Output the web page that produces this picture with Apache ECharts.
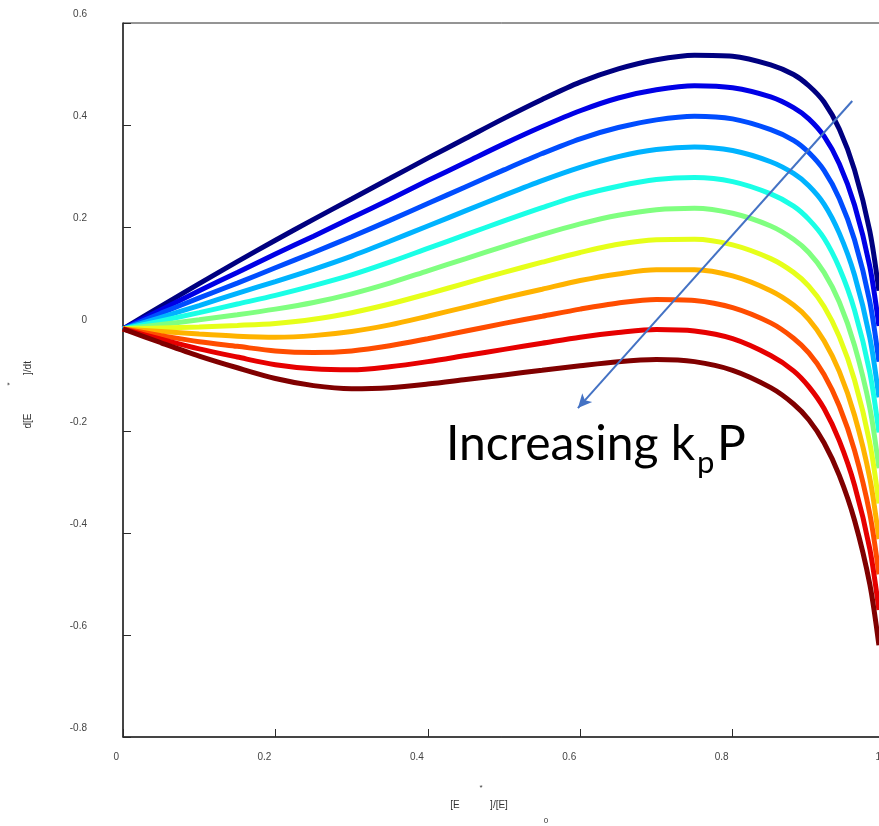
<!DOCTYPE html>
<html>
<head>
<meta charset="utf-8">
<title>d[E*]/dt vs [E*]/[E]0</title>
<script src="https://cdn.jsdelivr.net/npm/echarts@6/dist/echarts.min.js"></script>
<style>
  html, body { margin: 0; padding: 0; background: #fff; }
  #chart { width: 879px; height: 826px; }
</style>
</head>
<body>
<div id="chart"></div>
<script>
  // x = [E*]/[E]0
  const xValues = [0, 0.05, 0.1, 0.15, 0.2, 0.25, 0.3, 0.35, 0.4, 0.45, 0.5, 0.55, 0.6, 0.65, 0.7, 0.75, 0.8, 0.85, 0.88, 0.9, 0.92, 0.94, 0.96, 0.98, 0.992];

  // d[E*]/dt, one array per kpP value (lowest kpP first)
  const curve1  = [0, 0.045, 0.089, 0.132, 0.174, 0.215, 0.255, 0.295, 0.335, 0.374, 0.413, 0.450, 0.484, 0.510, 0.528, 0.537, 0.535, 0.518, 0.499, 0.477, 0.445, 0.392, 0.312, 0.192, 0.075];
  const curve2  = [0, 0.038, 0.075, 0.111, 0.147, 0.182, 0.218, 0.254, 0.291, 0.327, 0.363, 0.397, 0.428, 0.453, 0.469, 0.477, 0.473, 0.455, 0.434, 0.412, 0.378, 0.324, 0.243, 0.123, 0.006];
  const curve3  = [0, 0.031, 0.061, 0.090, 0.120, 0.150, 0.181, 0.213, 0.246, 0.279, 0.312, 0.344, 0.373, 0.395, 0.410, 0.417, 0.412, 0.391, 0.370, 0.346, 0.311, 0.256, 0.175, 0.054, -0.064];
  const curve4  = [0, 0.023, 0.046, 0.070, 0.093, 0.117, 0.143, 0.172, 0.202, 0.232, 0.262, 0.291, 0.317, 0.338, 0.352, 0.357, 0.350, 0.328, 0.305, 0.281, 0.245, 0.188, 0.106, -0.016, -0.134];
  const curve5  = [0, 0.016, 0.032, 0.049, 0.066, 0.085, 0.106, 0.131, 0.158, 0.185, 0.212, 0.238, 0.262, 0.280, 0.293, 0.297, 0.289, 0.265, 0.241, 0.215, 0.178, 0.120, 0.037, -0.085, -0.203];
  const curve6  = [0, 0.009, 0.018, 0.028, 0.039, 0.052, 0.069, 0.090, 0.114, 0.138, 0.162, 0.185, 0.206, 0.223, 0.234, 0.237, 0.227, 0.202, 0.176, 0.150, 0.111, 0.053, -0.032, -0.154, -0.273];
  const curve7  = [0, 0.002, 0.004, 0.007, 0.011, 0.019, 0.032, 0.049, 0.069, 0.090, 0.111, 0.131, 0.150, 0.166, 0.175, 0.176, 0.165, 0.138, 0.111, 0.084, 0.044, -0.015, -0.100, -0.223, -0.342];
  const curve8  = [0, -0.005, -0.010, -0.014, -0.016, -0.013, -0.005, 0.008, 0.025, 0.043, 0.061, 0.078, 0.095, 0.108, 0.116, 0.116, 0.104, 0.075, 0.047, 0.019, -0.023, -0.083, -0.169, -0.292, -0.412];
  const curve9  = [0, -0.013, -0.025, -0.034, -0.043, -0.046, -0.043, -0.033, -0.019, -0.004, 0.011, 0.025, 0.039, 0.051, 0.058, 0.056, 0.042, 0.012, -0.018, -0.047, -0.089, -0.151, -0.238, -0.362, -0.481];
  const curve10 = [0, -0.020, -0.039, -0.055, -0.070, -0.078, -0.080, -0.074, -0.064, -0.052, -0.040, -0.028, -0.016, -0.007, -0.001, -0.004, -0.019, -0.052, -0.082, -0.113, -0.156, -0.219, -0.306, -0.431, -0.551];
  const curve11 = [0, -0.027, -0.053, -0.076, -0.097, -0.111, -0.117, -0.115, -0.108, -0.099, -0.090, -0.081, -0.072, -0.064, -0.060, -0.064, -0.081, -0.115, -0.147, -0.178, -0.223, -0.287, -0.375, -0.500, -0.620];

  const curves = [curve1, curve2, curve3, curve4, curve5, curve6, curve7, curve8, curve9, curve10, curve11];
  const curveColors = ['#000080', '#0000E6', '#004DFF', '#00B3FF', '#1AFFE6', '#80FF80', '#E6FF1A', '#FFB300', '#FF4D00', '#E60000', '#800000'];

  const xTicks = [0, 0.2, 0.4, 0.6, 0.8, 1];
  const yTicks = [-0.8, -0.6, -0.4, -0.2, 0, 0.2, 0.4, 0.6];

  // arrow "Increasing kpP" (data coordinates)
  const arrowStart = [0.957, 0.447];
  const arrowEnd = [0.597, -0.155];

  const axisColor = '#2b2b2b';
  const labelFont = 'Liberation Sans, Arial, sans-serif';
  const noteFont = 'Lato, "Open Sans", sans-serif';

  const chart = echarts.init(document.getElementById('chart'), null, { renderer: 'canvas' });

  const series = curves.map((ys, i) => ({
    type: 'line',
    data: xValues.map((x, j) => [x, ys[j]]),
    smooth: 0.3,
    showSymbol: false,
    symbol: 'none',
    lineStyle: { color: curveColors[i], width: 5 },
    emphasis: { disabled: true }
  }));

  series.push({
    type: 'line',
    data: [],
    z: 5,
    markLine: {
      silent: true,
      symbol: ['none', 'arrow'],
      symbolSize: [10, 14],
      label: { show: false },
      lineStyle: { color: '#4472C4', width: 2, type: 'solid' },
      data: [[{ coord: arrowStart }, { coord: arrowEnd }]]
    }
  });

  chart.setOption({
    animation: false,
    backgroundColor: '#ffffff',
    grid: {
      left: 123, top: 23, width: 762, height: 714,
      outerBoundsMode: 'none',
      show: true, borderColor: axisColor, borderWidth: 1, backgroundColor: 'transparent'
    },
    xAxis: {
      type: 'value',
      min: xTicks[0], max: xTicks[xTicks.length - 1], interval: 0.2,
      axisLine: { show: true, onZero: false, lineStyle: { color: axisColor, width: 1.5 } },
      axisTick: { show: true, inside: true, length: 8, lineStyle: { color: axisColor } },
      splitLine: { show: false },
      axisLabel: {
        color: '#444', fontSize: 10, fontFamily: labelFont,
        align: 'right', margin: 15, padding: [0, 4, 0, 0]
      }
    },
    yAxis: {
      type: 'value',
      min: yTicks[0], max: yTicks[yTicks.length - 1], interval: 0.2,
      axisLine: { show: true, onZero: false, lineStyle: { color: axisColor, width: 1.5 } },
      axisTick: { show: true, inside: true, length: 8, lineStyle: { color: axisColor } },
      splitLine: { show: false },
      axisLabel: {
        color: '#444', fontSize: 10, fontFamily: labelFont,
        margin: 36, verticalAlign: 'bottom', lineHeight: 18
      }
    },
    graphic: [
      // y axis title: d[E*]/dt
      { type: 'text', x: 28, y: 421, rotation: Math.PI / 2, style: { text: 'd[E', font: '10px ' + labelFont, fill: '#333', align: 'center', verticalAlign: 'middle' } },
      { type: 'text', x: 28, y: 368, rotation: Math.PI / 2, style: { text: ']/dt', font: '10px ' + labelFont, fill: '#333', align: 'center', verticalAlign: 'middle' } },
      { type: 'text', x: 10, y: 384, rotation: Math.PI / 2, style: { text: '*', font: '8px ' + labelFont, fill: '#333', align: 'center', verticalAlign: 'middle' } },
      // x axis title: [E*]/[E]0
      { type: 'text', x: 455, y: 805, style: { text: '[E', font: '10px ' + labelFont, fill: '#333', align: 'center', verticalAlign: 'middle' } },
      { type: 'text', x: 499, y: 805, style: { text: ']/[E]', font: '10px ' + labelFont, fill: '#333', align: 'center', verticalAlign: 'middle' } },
      { type: 'text', x: 481, y: 788, style: { text: '*', font: '8px ' + labelFont, fill: '#333', align: 'center', verticalAlign: 'middle' } },
      { type: 'text', x: 546, y: 821, style: { text: '0', font: '8px ' + labelFont, fill: '#333', align: 'center', verticalAlign: 'middle' } },
      // annotation
      { type: 'text', x: 446, y: 445, z: 10, style: { text: 'Increasing k', font: '48px ' + noteFont, fill: '#000', align: 'left', verticalAlign: 'middle' } },
      { type: 'text', x: 697, y: 463, z: 10, style: { text: 'p', font: '31px ' + noteFont, fill: '#000', align: 'left', verticalAlign: 'middle' } },
      { type: 'text', x: 717, y: 445, z: 10, style: { text: 'P', font: '48px ' + noteFont, fill: '#000', align: 'left', verticalAlign: 'middle' } }
    ],
    series: series
  });
</script>
</body>
</html>
